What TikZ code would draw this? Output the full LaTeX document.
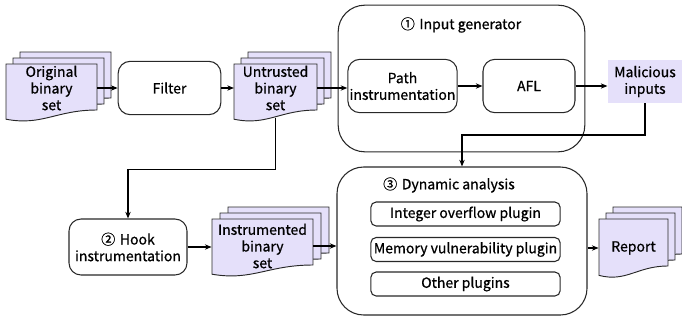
\documentclass[tikz,border=0pt]{standalone}
\usepackage{fontspec}
\setmainfont{Noto Sans CJK SC}[UprightFeatures={FakeBold=0.7}]
\usetikzlibrary{calc,arrows.meta}
\definecolor{docfill}{RGB}{229,224,250}
\definecolor{boxline}{RGB}{40,40,40}
\tikzset{
  box/.style={draw=boxline, line width=0.8pt, rounded corners=9pt, align=center, inner sep=0pt},
  bigbox/.style={draw=boxline, line width=0.8pt, rounded corners=20pt, inner sep=0pt},
  plugin/.style={draw=boxline, line width=0.8pt, rounded corners=4pt, inner sep=0pt},
  docpage/.style={draw=boxline, line width=0.7pt, fill=docfill},
  doctext/.style={align=center, inner sep=0pt},
  arr/.style={-{Stealth[length=5pt,width=4pt]}, line width=1pt},
}
\def\docpage(#1,#2)(#3,#4){\filldraw[docpage] (#1,#2) -- ({#1+#3},#2) -- ({#1+#3},{#2+#4}) .. controls ({#1+0.55*#3},{#2+#4}) and ({#1+0.4*#3},{#2+1.35*#4}) .. (#1,{#2+1.2*#4}) -- cycle;}
\def\docstack(#1,#2)(#3,#4)(#5,#6){%
  \begin{scope}[shift={(2*#5,-2*#6)}]\docpage(#1,#2)(#3,#4)\end{scope}
  \begin{scope}[shift={(#5,-#6)}]\docpage(#1,#2)(#3,#4)\end{scope}
  \docpage(#1,#2)(#3,#4)}

\begin{document}
\begin{tikzpicture}[x=0.75pt, y=-0.75pt, font=\fontsize{10.5}{12.5}\selectfont]
	%%%%% START %%%%%
	\useasboundingbox (0,0) rectangle (682,322);

	% big frames
	\node[bigbox, minimum width=185pt, minimum height=110pt] (gen) at (461.5,78.5) {};
	\node (gentitle) at (461,25) {①\,\,Input generator};
	\node[bigbox, minimum width=187.5pt, minimum height=111pt] (dyn) at (462,241) {};
	\node (dyntitle) at (449,185) {③\,\,Dynamic analysis};

	% binary sets
	\docstack(6,64)(91,46)(7,6);
	\node[doctext, minimum width=68pt, minimum height=36pt] (orig) at (51.5,88) {Original\\binary\\set};
	\docstack(234,64)(83,46)(7,6);
	\node[doctext, minimum width=62pt, minimum height=36pt] (untr) at (275.5,88) {Untrusted\\binary\\set};
	\docstack(212,219)(101,46)(8,6);
	\node[doctext, minimum width=76pt, minimum height=36pt] (instr) at (262.5,246) {Instrumented\\binary\\set};
	\docstack(599,219)(69,47)(7,6);
	\node[doctext, minimum width=52pt, minimum height=36pt] (report) at (633.5,248) {Report};

	% boxes
	\node[box, minimum width=77pt, minimum height=40pt] (filter) at (169.5,88) {Filter};
	\node[box, minimum width=82pt, minimum height=40pt] (path) at (402.5,86) {Path\\instrumentation};
	\node[box, minimum width=69pt, minimum height=40pt] (afl) at (529,86) {AFL};
	\node[fill=docfill, align=center, inner sep=0pt, minimum width=56pt, minimum height=32pt] (mal) at (645,81.5) {Malicious\\inputs};
	\node[box, minimum width=88.5pt, minimum height=42pt] (hook) at (128,247) {②\,\,Hook\\instrumentation};

	% plugins
	\node[plugin, minimum width=142pt, minimum height=18pt] (intp) at (465.5,214) {Integer overflow plugin};
	\node[plugin, minimum width=142pt, minimum height=18pt] (memp) at (465.5,249.5) {Memory vulnerability plugin};
	\node[plugin, minimum width=142pt, minimum height=18pt] (othp) at (465.5,284) {Other plugins};

	% connectors
	\draw[arr] (orig.east) -- (filter.west |- orig.east);
	\draw[arr] (filter.east) -- (untr.west |- filter.east);
	\draw[arr] (untr.east) -- (path.west |- untr.east);
	\draw[arr] (path.east) -- (afl.west);
	\draw[arr] (afl.east) -- (mal.west |- afl.east);
	\draw[arr] (mal.south) -- ++(0,32) -| (dyn.north);
	\draw[arr] ([yshift=-4pt]untr.south) -- ++(0,52) -| (hook.north);
	\draw[arr] (hook.east) -- (instr.west |- hook.east);
	\draw[arr] (instr.east) -- (dyn.west |- instr.east);
	\draw[arr] (dyn.east |- report.west) -- (report.west);
	%%%%% END %%%%%
\end{tikzpicture}
\end{document}
